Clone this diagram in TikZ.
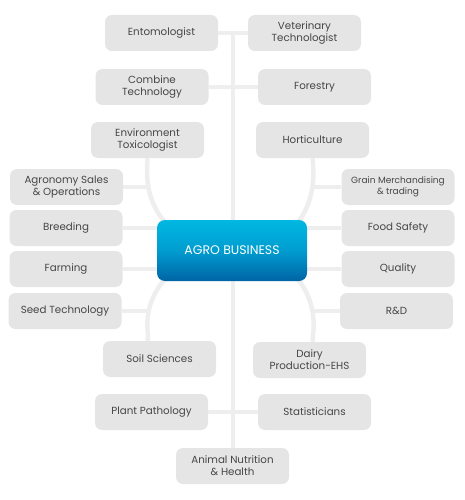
\documentclass[tikz,border=0pt]{standalone}
\usepackage{fontspec}
\setmainfont{Poppins}
\usetikzlibrary{backgrounds}
\definecolor{boxgray}{RGB}{229, 229, 229}
\definecolor{textgray}{RGB}{70, 70, 70}
\definecolor{linegray}{RGB}{238, 238, 238}
\definecolor{coretop}{RGB}{0, 184, 226}
\definecolor{coremid}{RGB}{0, 156, 208}
\definecolor{corebot}{RGB}{0, 100, 164}
\tikzset{
    career/.style={
        rectangle,
        rounded corners=7pt,
        minimum width=113pt,
        minimum height=36pt,
        inner sep=0pt,
        align=center,
        fill=boxgray,
        text=textgray,
        font=\fontsize{10.3}{12}\selectfont
    },
    core/.style={
        rectangle,
        rounded corners=8pt,
        minimum width=150pt,
        minimum height=61pt,
        top color=coretop,
        bottom color=corebot,
        middle color=coremid,
        text=white,
        font=\fontsize{12.5}{14}\selectfont
    },
    link/.style={
        line width=4.5pt,
        color=linegray
    }
}
\begin{document}
\begin{tikzpicture}[x=1pt, y=-1pt]
    \useasboundingbox (0,0) rectangle (465,500);

    % Define central node
    \node (hub) [core] at (232,250.5) {AGRO BUSINESS};

    % Define upper branch nodes
    \node (ento) [career] at (161.5,33) {Entomologist};
    \node (vet) [career] at (304.5,33) {Veterinary\\Technologist};
    \node (combine) [career] at (152,87) {Combine\\Technology};
    \node (forestry) [career] at (314.5,87) {Forestry};
    \node (envtox) [career] at (147.5,140) {Environment\\Toxicologist};
    \node (hort) [career] at (312.5,140) {Horticulture};

    % Define side nodes
    \node (agronomy) [career] at (66.5,187) {Agronomy Sales\\\& Operations};
    \node (breeding) [career] at (66,228) {Breeding};
    \node (farming) [career] at (66,269) {Farming};
    \node (seed) [career] at (65,311) {Seed Technology};
    \node (grain) [career, font=\fontsize{9}{10.5}\selectfont] at (398,187) {Grain Merchandising\\\& trading};
    \node (food) [career] at (398,228) {Food Safety};
    \node (quality) [career] at (398,269) {Quality};
    \node (rnd) [career] at (396.5,311) {R\&D};

    % Define lower branch nodes
    \node (soil) [career] at (159.5,359) {Soil Sciences};
    \node (dairy) [career] at (309.5,360) {Dairy\\Production-EHS};
    \node (plant) [career] at (151.5,412) {Plant Pathology};
    \node (stat) [career] at (314.5,412) {Statisticians};
    \node (animal) [career] at (232.5,466) {Animal Nutrition\\\& Health};

    % Points where the short links meet the curves
    \coordinate (trunktop) at (233,33);
    \coordinate (lefttop) at (148,187);
    \coordinate (leftbot) at (148,311);
    \coordinate (righttop) at (314,187);
    \coordinate (rightbot) at (314,311);

    \begin{scope}[on background layer]
        % Draw main trunk and cross links
        \draw [link] (trunktop) -- (trunktop |- animal.north);
        \draw [link] (ento) -- (vet);
        \draw [link] (combine) -- (forestry);
        \draw [link] (plant) -- (stat);

        % Draw curves round the hub
        \draw [link] (envtox.south) .. controls (145,190) and (152,210) .. (172,230);
        \draw [link] (172,272) .. controls (152,290) and (145,312) .. (148,335) -- (envtox.south |- soil.north);
        \draw [link] (hort.south) .. controls (316,190) and (309,210) .. (292,230);
        \draw [link] (292,272) .. controls (309,290) and (316,312) .. (313,335) -- (hort.south |- dairy.north);

        % Draw short side links
        \draw [link] (agronomy.east) -- (lefttop);
        \draw [link] (breeding) -- (breeding -| hub.west);
        \draw [link] (farming) -- (farming -| hub.west);
        \draw [link] (seed.east) -- (leftbot);
        \draw [link] (grain.west) -- (righttop);
        \draw [link] (food) -- (food -| hub.east);
        \draw [link] (quality) -- (quality -| hub.east);
        \draw [link] (rnd.west) -- (rightbot);
    \end{scope}

\end{tikzpicture}
\end{document}
